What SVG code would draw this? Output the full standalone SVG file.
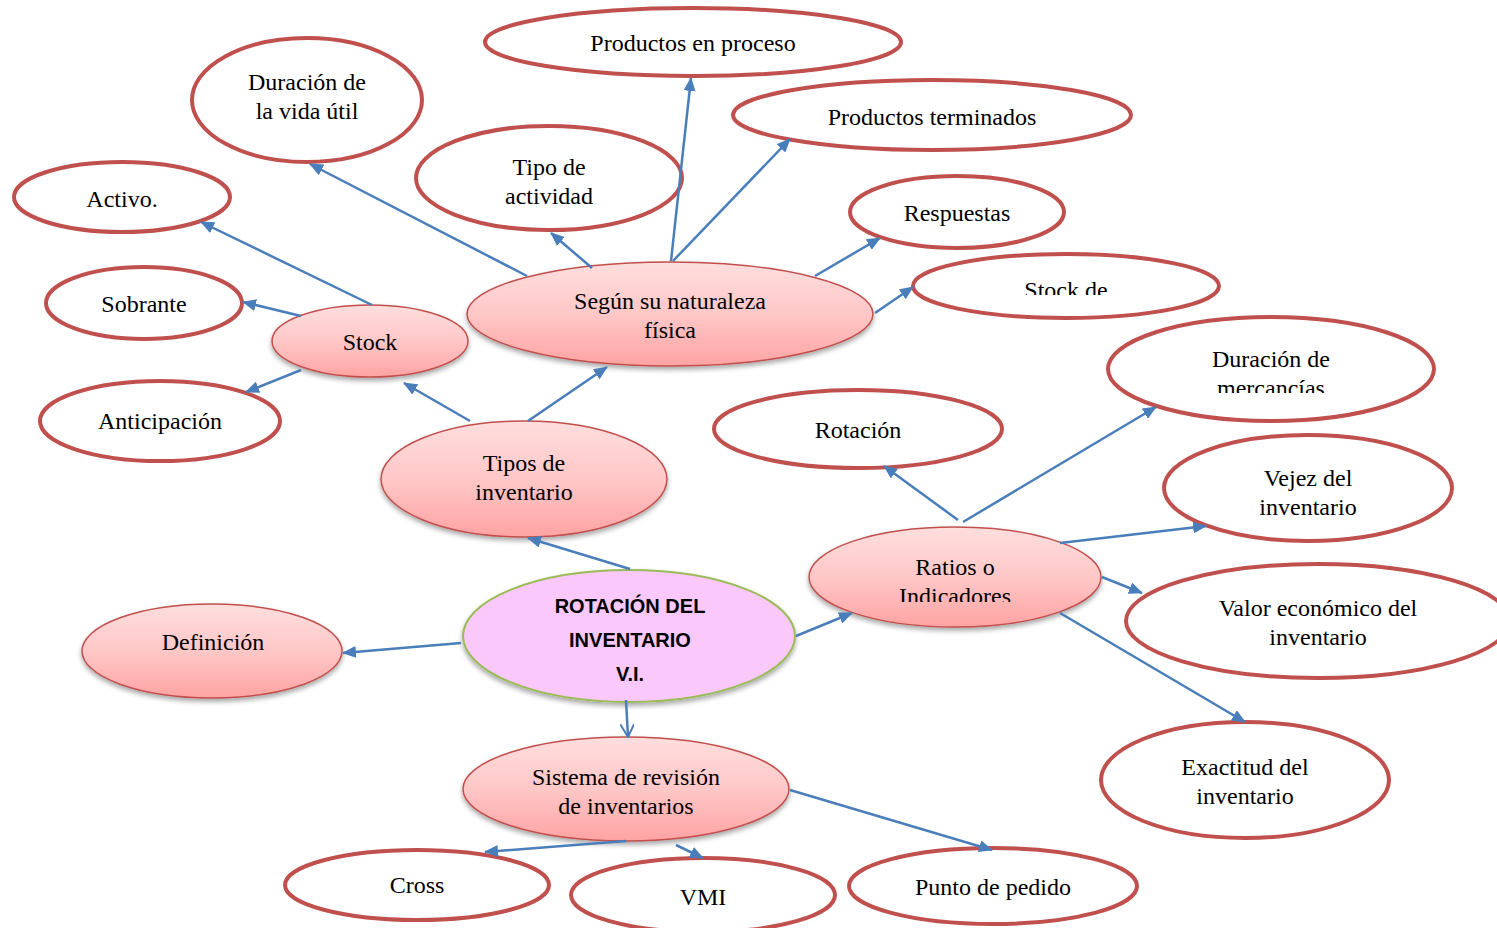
<svg xmlns="http://www.w3.org/2000/svg" width="1497" height="928" viewBox="0 0 1497 928">
<defs>
<linearGradient id="pink" x1="0" y1="0" x2="0" y2="1">
<stop offset="0" stop-color="#FFDEDE"/>
<stop offset="0.5" stop-color="#FFC7C7"/>
<stop offset="1" stop-color="#FFA3A3"/>
</linearGradient>
<filter id="sh" x="-10%" y="-10%" width="120%" height="130%">
<feDropShadow dx="0" dy="3" stdDeviation="2.5" flood-color="#000" flood-opacity="0.35"/>
</filter>
<marker id="ah" viewBox="0 0 14 12" refX="13" refY="6" markerWidth="14" markerHeight="12" markerUnits="userSpaceOnUse" orient="auto">
<path d="M0,0 L14,6 L0,12 Z" fill="#4A7EBB"/>
</marker>
<marker id="ao" viewBox="0 0 14 14" refX="13" refY="7" markerWidth="14" markerHeight="14" markerUnits="userSpaceOnUse" orient="auto">
<path d="M0,0 L13,7 L0,14" fill="none" stroke="#4A7EBB" stroke-width="2"/>
</marker>
<clipPath id="c1"><rect x="0" y="0" width="1497" height="205"/></clipPath>
<clipPath id="c2"><rect x="0" y="0" width="1497" height="295"/></clipPath>
<clipPath id="c3"><rect x="0" y="0" width="1497" height="393"/></clipPath>
<clipPath id="c4"><rect x="0" y="0" width="1497" height="602"/></clipPath>
</defs>
<style>
.w{fill:#fff;stroke:#C0504D;stroke-width:4}
.g{fill:url(#pink);stroke:#C0504D;stroke-width:1.5;filter:url(#sh)}
.c{fill:#FBC8FB;stroke:#9BBB59;stroke-width:2;filter:url(#sh)}
text{font-family:"Liberation Serif","Times New Roman",serif;font-size:24px;fill:#000;text-anchor:middle}
.b{font-family:"Liberation Sans",Arial,sans-serif;font-weight:bold;font-size:20px}
.e{fill:none;stroke:#4A7EBB;stroke-width:2.5}
</style>
<rect width="1497" height="928" fill="#fff"/>

<g id="n-proceso"><ellipse class="w" cx="693" cy="42" rx="208" ry="34"/><text x="693" y="51">Productos en proceso</text></g>
<g id="n-vidautil"><ellipse class="w" cx="307" cy="100" rx="115" ry="62"/><text x="307" y="90">Duración de</text><text x="307" y="119">la vida útil</text></g>
<g id="n-terminados"><ellipse class="w" cx="932" cy="115" rx="199" ry="35"/><text x="932" y="125">Productos terminados</text></g>
<g id="n-actividad"><ellipse class="w" cx="549" cy="178" rx="133" ry="52"/><g clip-path="url(#c1)"><text x="549" y="175">Tipo de</text><text x="549" y="204">actividad</text></g></g>
<g id="n-activo"><ellipse class="w" cx="122" cy="197" rx="108" ry="35"/><text x="122" y="207">Activo.</text></g>
<g id="n-respuestas"><ellipse class="w" cx="957" cy="212" rx="107" ry="36"/><text x="957" y="221">Respuestas</text></g>
<g id="n-stockde"><ellipse class="w" cx="1066" cy="286" rx="153" ry="32"/><g clip-path="url(#c2)"><text x="1066" y="298">Stock de</text></g></g>
<g id="n-sobrante"><ellipse class="w" cx="144" cy="303" rx="98" ry="36"/><text x="144" y="312">Sobrante</text></g>
<g id="n-anticipacion"><ellipse class="w" cx="160" cy="421" rx="120" ry="40"/><text x="160" y="429">Anticipación</text></g>
<g id="n-mercancias"><ellipse class="w" cx="1271" cy="369" rx="163" ry="52"/><g clip-path="url(#c3)"><text x="1271" y="367">Duración de</text><text x="1271" y="396">mercancías</text></g></g>
<g id="n-rotacion"><ellipse class="w" cx="858" cy="429" rx="144" ry="39"/><text x="858" y="438">Rotación</text></g>
<g id="n-vejez"><ellipse class="w" cx="1308" cy="488" rx="144" ry="53"/><text x="1308" y="486">Vejez del</text><text x="1308" y="515">inventario</text></g>
<g id="n-valor"><ellipse class="w" cx="1318" cy="621" rx="192" ry="57"/><text x="1318" y="616">Valor económico del</text><text x="1318" y="645">inventario</text></g>
<g id="n-exactitud"><ellipse class="w" cx="1245" cy="780" rx="144" ry="58"/><text x="1245" y="775">Exactitud del</text><text x="1245" y="804">inventario</text></g>
<g id="n-cross"><ellipse class="w" cx="417" cy="885" rx="132" ry="35"/><text x="417" y="893">Cross</text></g>
<g id="n-vmi"><ellipse class="w" cx="703" cy="895" rx="132" ry="37"/><text x="703" y="905">VMI</text></g>
<g id="n-punto"><ellipse class="w" cx="993" cy="886" rx="144" ry="38"/><text x="993" y="895">Punto de pedido</text></g>

<g id="n-segun"><ellipse class="g" cx="670" cy="314" rx="203" ry="52"/><text x="670" y="309">Según su naturaleza</text><text x="670" y="338">física</text></g>
<g id="n-stock"><ellipse class="g" cx="370" cy="341" rx="98" ry="36"/><text x="370" y="350">Stock</text></g>
<g id="n-tipos"><ellipse class="g" cx="524" cy="479" rx="143" ry="58"/><text x="524" y="471">Tipos de</text><text x="524" y="500">inventario</text></g>
<g id="n-ratios"><ellipse class="g" cx="955" cy="577" rx="146" ry="50"/><g clip-path="url(#c4)"><text x="955" y="575">Ratios o</text><text x="955" y="604">Indicadores</text></g></g>
<g id="n-definicion"><ellipse class="g" cx="212" cy="651" rx="130" ry="47"/><text x="213" y="650">Definición</text></g>
<g id="n-sistema"><ellipse class="g" cx="626" cy="789" rx="163" ry="52"/><text x="626" y="785">Sistema de revisión</text><text x="626" y="814">de inventarios</text></g>
<g id="n-center"><ellipse class="c" cx="629" cy="636" rx="166" ry="66"/><text class="b" x="630" y="613">ROTACIÓN DEL</text><text class="b" x="630" y="647">INVENTARIO</text><text class="b" x="630" y="681">V.I.</text></g>

<g id="connectors">
<line class="e" x1="630" y1="569" x2="528" y2="538" marker-end="url(#ah)"/>
<line class="e" x1="461" y1="643" x2="343" y2="653" marker-end="url(#ah)"/>
<line class="e" x1="796" y1="636" x2="852" y2="613" marker-end="url(#ah)"/>
<line class="e" x1="626" y1="700" x2="628" y2="737" marker-end="url(#ao)"/>
<line class="e" x1="470" y1="421" x2="404" y2="383" marker-end="url(#ah)"/>
<line class="e" x1="528" y1="421" x2="607" y2="367" marker-end="url(#ah)"/>
<line class="e" x1="372" y1="305" x2="201" y2="222" marker-end="url(#ah)"/>
<line class="e" x1="301" y1="316" x2="243" y2="302" marker-end="url(#ah)"/>
<line class="e" x1="301" y1="370" x2="246" y2="392" marker-end="url(#ah)"/>
<line class="e" x1="527" y1="276" x2="310" y2="164" marker-end="url(#ah)"/>
<line class="e" x1="592" y1="268" x2="551" y2="233" marker-end="url(#ah)"/>
<line class="e" x1="671" y1="261" x2="691" y2="78" marker-end="url(#ah)"/>
<line class="e" x1="673" y1="261" x2="790" y2="139" marker-end="url(#ah)"/>
<line class="e" x1="815" y1="276" x2="880" y2="238" marker-end="url(#ah)"/>
<line class="e" x1="875" y1="313" x2="913" y2="287" marker-end="url(#ah)"/>
<line class="e" x1="958" y1="520" x2="884" y2="466" marker-end="url(#ah)"/>
<line class="e" x1="963" y1="522" x2="1156" y2="407" marker-end="url(#ah)"/>
<line class="e" x1="1060" y1="543" x2="1206" y2="526" marker-end="url(#ah)"/>
<line class="e" x1="1102" y1="577" x2="1142" y2="593" marker-end="url(#ah)"/>
<line class="e" x1="1060" y1="613" x2="1245" y2="722" marker-end="url(#ah)"/>
<line class="e" x1="626" y1="841" x2="485" y2="852" marker-end="url(#ah)"/>
<line class="e" x1="676" y1="845" x2="703" y2="858" marker-end="url(#ah)"/>
<line class="e" x1="790" y1="790" x2="992" y2="850" marker-end="url(#ah)"/>
</g>
</svg>
